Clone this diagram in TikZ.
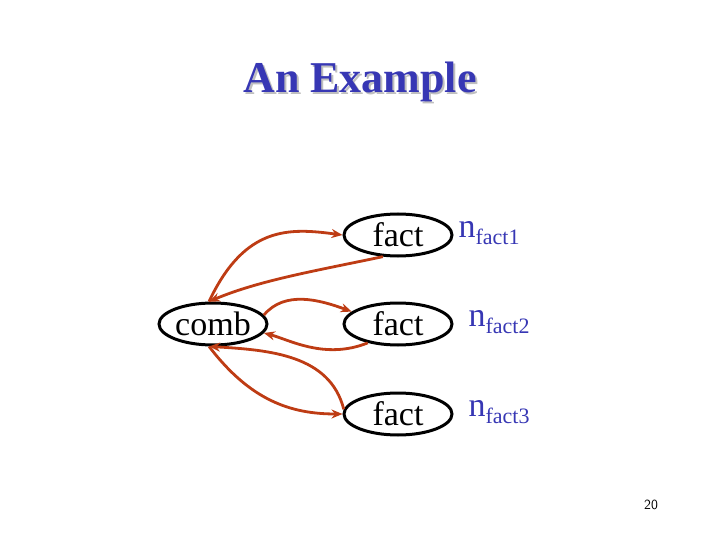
\documentclass[tikz,border=0pt]{standalone}
\usepackage{fontspec}
\setmainfont{Liberation Serif}
\usetikzlibrary{arrows.meta,shapes.geometric}
\definecolor{ttl}{RGB}{55,55,180}
\definecolor{arr}{RGB}{190,60,20}
\begin{document}
\begin{tikzpicture}[x=1pt,y=-1pt,
  ell/.style={ellipse,draw,line width=3pt,minimum width=108pt,minimum height=42pt,inner sep=0pt,font=\fontsize{34}{36}\selectfont},
  lab/.style={anchor=west,text=ttl,font=\fontsize{34}{36}\selectfont},
  con/.style={draw=arr,line width=2.8pt,-{Stealth[length=11pt,width=9pt]}}]
\useasboundingbox (0,0) rectangle (720,540);
\node (shadow)[font=\bfseries\fontsize{44}{46}\selectfont,text=gray!50] at (362,84) {An Example};
\node (title)[font=\bfseries\fontsize{44}{46}\selectfont,text=ttl] at (360,82) {An Example};
\node (comb)[ell] at (213,324) {comb};
\node (f1)[ell] at (398,235) {fact};
\node (f2)[ell] at (398,324) {fact};
\node (f3)[ell] at (398,414) {fact};
\node (n1)[lab] at (455,233) {n{\fontsize{22}{24}\selectfont\raisebox{-7pt}{fact1}}};
\node (n2)[lab] at (465,322) {n{\fontsize{22}{24}\selectfont\raisebox{-7pt}{fact2}}};
\node (n3)[lab] at (465,412) {n{\fontsize{22}{24}\selectfont\raisebox{-7pt}{fact3}}};
\draw[con] (comb.100) .. controls (245,225) and (290,228) .. (f1.west);
\draw[con] (f1.235) .. controls (320,270) and (260,280) .. (comb.100);
\draw[con] (comb.10) .. controls (285,290) and (320,300) .. (f2.165);
\draw[con] (f2.212) .. controls (325,360) and (290,340) .. (comb.-10);
\draw[con] (comb.-100) .. controls (250,400) and (290,414) .. (f3.west);
\draw[con] (f3.175) .. controls (330,355) and (270,350) .. (comb.-100);
\node (pg)[font=\sffamily\fontsize{14}{15}\selectfont] at (651,505) {20};
\end{tikzpicture}
\end{document}
